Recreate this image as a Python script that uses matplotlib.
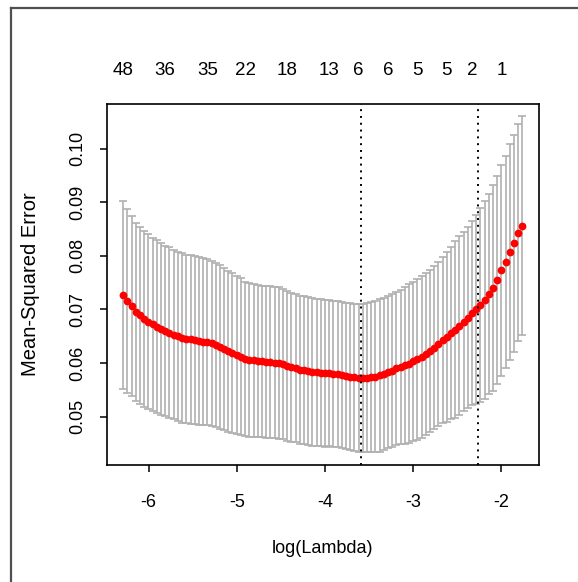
import matplotlib
matplotlib.use("Agg")
import matplotlib.pyplot as plt
from matplotlib.lines import Line2D
import numpy as np

plt.rcParams['font.family'] = ['Liberation Sans', 'DejaVu Sans']

# cross-validation results along the lambda path
log_lambda = [
    -6.289, -6.241, -6.194, -6.146, -6.098, -6.050, -6.003, -5.955, -5.907, -5.859,
    -5.812, -5.764, -5.716, -5.668, -5.621, -5.573, -5.525, -5.477, -5.430, -5.382,
    -5.334, -5.286, -5.239, -5.191, -5.143, -5.095, -5.048, -5.000, -4.952, -4.904,
    -4.857, -4.809, -4.761, -4.713, -4.666, -4.618, -4.570, -4.522, -4.475, -4.427,
    -4.379, -4.331, -4.284, -4.236, -4.188, -4.140, -4.093, -4.045, -3.997, -3.949,
    -3.902, -3.854, -3.806, -3.758, -3.711, -3.663, -3.615, -3.567, -3.520, -3.472,
    -3.424, -3.376, -3.329, -3.281, -3.233, -3.185, -3.138, -3.090, -3.042, -2.994,
    -2.947, -2.899, -2.851, -2.803, -2.756, -2.708, -2.660, -2.612, -2.565, -2.517,
    -2.469, -2.421, -2.374, -2.326, -2.278, -2.230, -2.183, -2.135, -2.087, -2.039,
    -1.992, -1.944, -1.896, -1.848, -1.801, -1.753,
]
cvm = [
    .0727, .0716, .0706, .0696, .0689, .0683, .0677, .0672, .0668, .0664,
    .0660, .0657, .0653, .0650, .0647, .0645, .0644, .0643, .0641, .0640,
    .0639, .0637, .0634, .0630, .0626, .0622, .0619, .0615, .0612, .0608,
    .0606, .0605, .0604, .0603, .0602, .0602, .0601, .0600, .0598, .0595,
    .0592, .0590, .0588, .0587, .0585, .0584, .0583, .0582, .0581, .0581,
    .0580, .0579, .0578, .0576, .0575, .0574, .0573, .0573, .0573, .0574,
    .0575, .0577, .0580, .0583, .0586, .0590, .0593, .0596, .0599, .0603,
    .0607, .0612, .0617, .0622, .0629, .0636, .0643, .0649, .0656, .0662,
    .0670, .0677, .0685, .0693, .0700, .0708, .0718, .0729, .0740, .0755,
    .0773, .0789, .0807, .0823, .0843, .0856,
]
cvsd = [
    .0176, .0172, .0168, .0166, .0165, .0164, .0163, .0162, .0161, .0160,
    .0159, .0159, .0158, .0158, .0158, .0157, .0157, .0156, .0156, .0156,
    .0155, .0154, .0153, .0152, .0151, .0150, .0149, .0147, .0146, .0144,
    .0143, .0142, .0142, .0141, .0141, .0141, .0141, .0141, .0140, .0140,
    .0139, .0138, .0138, .0138, .0138, .0138, .0137, .0137, .0137, .0136,
    .0136, .0136, .0136, .0136, .0137, .0137, .0138, .0138, .0139, .0140,
    .0141, .0142, .0142, .0142, .0143, .0143, .0144, .0146, .0148, .0149,
    .0150, .0151, .0151, .0151, .0152, .0153, .0155, .0158, .0161, .0165,
    .0167, .0167, .0168, .0172, .0177, .0181, .0184, .0187, .0192, .0194,
    .0197, .0198, .0201, .0203, .0202, .0204,
]

log_lambda_min = -3.59
log_lambda_1se = -2.255

# number of nonzero coefficients, shown above the plot
nz_idx = [0, 10, 20, 29, 39, 49, 56, 63, 70, 77, 83, 90]
nz_labels = ['48', '36', '35', '22', '18', '13', '6', '6', '5', '5', '2', '1']

x = np.array(log_lambda)
m = np.array(cvm)
sd = np.array(cvsd)

fig = plt.figure(figsize=(5.78, 5.82), dpi=100)
ax = fig.add_axes([0.1851, 0.2010, 0.7474, 0.6203])

ax.errorbar(x, m, yerr=sd, fmt='none', ecolor='#B0B0B0', elinewidth=1.2,
            capsize=2.9, capthick=1.2, zorder=2)
ax.plot(x, m, 'o', color='red', markersize=5.6, markeredgewidth=0, zorder=3)

ax.axvline(log_lambda_min, color='black', linestyle=(0, (1, 2.5)), linewidth=1.4, zorder=4)
ax.axvline(log_lambda_1se, color='black', linestyle=(0, (1, 2.5)), linewidth=1.4, zorder=4)

ax.set_xlim(-6.474, -1.565)
ax.set_ylim(0.0410, 0.1083)
ax.set_xticks([-6, -5, -4, -3, -2])
ax.set_xticklabels(['-6', '-5', '-4', '-3', '-2'])
ax.set_yticks([0.05, 0.06, 0.07, 0.08, 0.09, 0.10])
ax.set_yticklabels(['0.05', '0.06', '0.07', '0.08', '0.09', '0.10'],
                   rotation=90, va='center')

for side in ax.spines.values():
    side.set_linewidth(1.2)
ax.tick_params(axis='both', direction='out', length=5, width=1.1,
               labelsize=13)
ax.tick_params(axis='x', pad=16)
ax.tick_params(axis='y', pad=10)

ax.set_xlabel('log(Lambda)', fontsize=13, labelpad=21)
ax.set_ylabel('Mean-Squared Error', fontsize=14.5, labelpad=21)

for i, lab in zip(nz_idx, nz_labels):
    ax.text(x[i], 1.094, lab, transform=ax.get_xaxis_transform(),
            ha='center', va='center', fontsize=13.5)

# outer frame edges
fig.add_artist(Line2D([10.5 / 578, 1.0], [1 - 7.5 / 582, 1 - 7.5 / 582],
                      transform=fig.transFigure, color='#505050', linewidth=1.6))
fig.add_artist(Line2D([10.5 / 578, 10.5 / 578], [0.0, 1 - 7.5 / 582],
                      transform=fig.transFigure, color='#505050', linewidth=1.6))

fig.savefig('out.png', dpi=100)
